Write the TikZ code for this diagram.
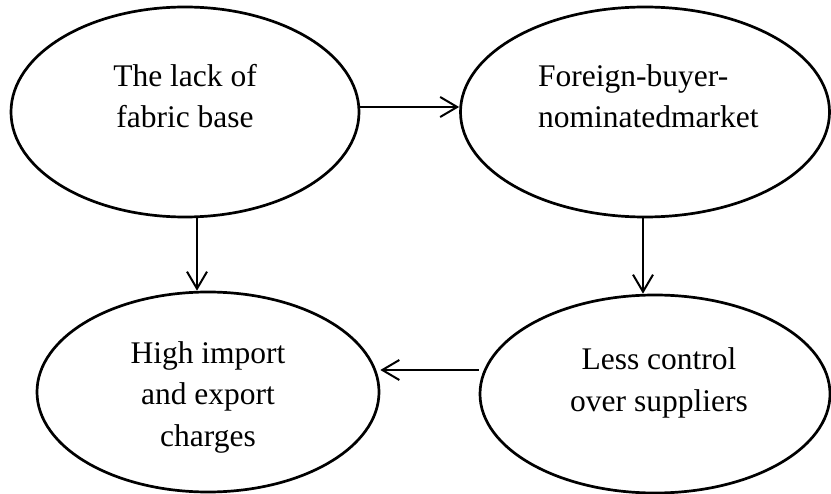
\documentclass[tikz,border=0pt]{standalone}
\usepackage{fontspec}
\setmainfont{Liberation Serif}
\usetikzlibrary{arrows.meta,shapes.geometric}
\begin{document}
\begin{tikzpicture}[x=1bp,y=-1bp,
  bubble/.style={ellipse,draw,line width=2.7bp,inner sep=0pt},
  caption/.style={font=\fontsize{31.5bp}{41.5bp}\selectfont,inner sep=0pt,align=center,anchor=base},
  arr/.style={line width=2bp,-{Straight Barb[length=17bp,width=20bp,line width=2bp]}}]
\useasboundingbox (0,0) rectangle (831,494);

% the four causes
\node[bubble,minimum width=348bp,minimum height=210bp] (a) at (185,112) {};
\node[bubble,minimum width=369bp,minimum height=210bp] (b) at (645,112) {};
\node[bubble,minimum width=342bp,minimum height=200bp] (c) at (208,392) {};
\node[bubble,minimum width=350bp,minimum height=198bp] (d) at (655,394) {};

% their texts (base anchor sits on the last line)
\node[caption] (ta) at (185,128) {The lack of\\fabric base};
\node[caption,align=left,anchor=base west] (tb) at (538,128) {Foreign-buyer-\\nominatedmarket};
\node[caption] (tc) at (208,446) {High import\\and export\\charges};
\node[caption] (td) at (659,411) {Less control\\over suppliers};

% links between them
\draw[arr] ([yshift=5bp]a.east) -- ([yshift=5bp]a.east -| b.west);
\draw[arr] ([xshift=12bp]a.south) -- ([xshift=12bp]a.south |- c.north);
\draw[arr] ([xshift=-2bp]b.south) -- ([xshift=-2bp]b.south |- d.north);
\draw[arr] ([yshift=24bp]d.west) -- ([yshift=24bp]d.west -| c.east);
\end{tikzpicture}
\end{document}
